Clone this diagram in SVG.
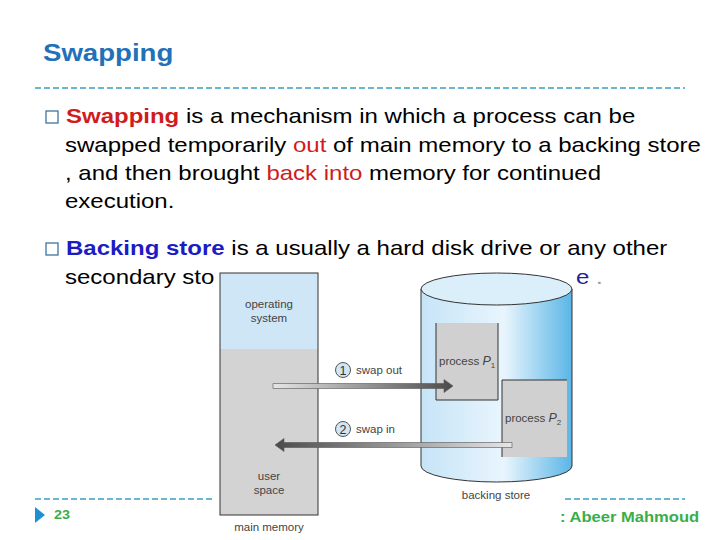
<svg xmlns="http://www.w3.org/2000/svg" width="720" height="540" viewBox="0 0 720 540">
<defs>
<style>
.t{font-family:"Liberation Sans",Arial,sans-serif;font-size:20px;fill:#000}
.red{fill:#d01c1c}
.b{font-weight:bold}
.blue{fill:#1c1cc4}
.lbl{font-family:"Liberation Sans",Arial,sans-serif;font-size:11.5px;fill:#444}
.dash{stroke:#3a9ec4;stroke-width:1.3;stroke-dasharray:6 3;fill:none}
.edge{stroke:#333;stroke-width:1;fill:none}
.foot{font-family:"Liberation Sans",Arial,sans-serif;font-weight:bold;fill:#3aae49}
</style>
<linearGradient id="cyl" x1="0" y1="0" x2="1" y2="0">
<stop offset="0" stop-color="#c6e4f7"/>
<stop offset="0.55" stop-color="#e9f5fd"/>
<stop offset="1" stop-color="#5ab6e6"/>
</linearGradient>
<linearGradient id="outG" x1="0" y1="0" x2="1" y2="0">
<stop offset="0" stop-color="#e6e6e6"/>
<stop offset="1" stop-color="#4a4a4a"/>
</linearGradient>
<linearGradient id="inG" x1="1" y1="0" x2="0" y2="0">
<stop offset="0" stop-color="#e6e6e6"/>
<stop offset="1" stop-color="#4a4a4a"/>
</linearGradient>
</defs>
<rect width="720" height="540" fill="#fff"/>

<g id="title">
<text class="t b" transform="translate(43,61) scale(1.2,1)" style="font-size:23px;fill:#2270b8">Swapping</text>
<line class="dash" x1="35" y1="88" x2="685" y2="88"/>
</g>

<g id="bullet1">
<rect x="46" y="111" width="12" height="12" fill="none" stroke="#2b6a9a" stroke-width="1.2"/>
<text class="t" transform="translate(66,123) scale(1.2,1)"><tspan class="b red">Swapping</tspan> is a mechanism in which a process can be</text>
<text class="t" transform="translate(65,152) scale(1.2,1)">swapped temporarily <tspan class="red">out</tspan> of main memory to a backing store</text>
<text class="t" transform="translate(65,180) scale(1.2,1)">, and then brought <tspan class="red">back into</tspan> memory for continued</text>
<text class="t" transform="translate(65,208) scale(1.2,1)">execution.</text>
</g>

<g id="bullet2">
<rect x="46" y="243" width="12" height="12" fill="none" stroke="#2b6a9a" stroke-width="1.2"/>
<text class="t" transform="translate(66,255) scale(1.2,1)"><tspan class="b blue">Backing store</tspan> is a usually a hard disk drive or any other</text>
<text class="t" transform="translate(65,284) scale(1.2,1)">secondary sto</text>
<text class="t" transform="translate(576,284) scale(1.2,1)"><tspan style="fill:#22229a">e</tspan><tspan style="fill:#999"> .</tspan></text>
</g>

<g id="main-memory">
<rect x="220" y="273" width="98" height="76" fill="#cfe6f7"/>
<rect x="220" y="349" width="98" height="166" fill="#d3d3d3"/>
<rect x="220" y="273" width="98" height="242" class="edge"/>
<text class="lbl" x="269" y="308" text-anchor="middle">operating</text>
<text class="lbl" x="269" y="322" text-anchor="middle">system</text>
<text class="lbl" x="269" y="480" text-anchor="middle">user</text>
<text class="lbl" x="269" y="494" text-anchor="middle">space</text>
<text class="lbl" x="269" y="531" text-anchor="middle">main memory</text>
</g>

<g id="backing-store">
<path d="M421,289 L421,466 A75.5,16 0 0 0 572,466 L572,289 Z" fill="url(#cyl)" stroke="#333" stroke-width="1"/>
<ellipse cx="496.5" cy="289" rx="75.5" ry="16" fill="#dbeffb" stroke="#333" stroke-width="1"/>
<text class="lbl" x="496" y="499" text-anchor="middle">backing store</text>
</g>

<g id="process-p1">
<rect x="436" y="323" width="62" height="77" fill="#d0d0d0"/>
<path d="M436,323 V400 H498 V323" class="edge"/>
<text class="lbl" x="439" y="365">process <tspan font-style="italic" font-size="12.5">P</tspan><tspan font-size="8" dy="3">1</tspan></text>
</g>

<g id="process-p2">
<rect x="502" y="380" width="65" height="77" fill="#d0d0d0"/>
<path d="M502,457 V380 H567" class="edge"/>
<text class="lbl" x="505" y="422">process <tspan font-style="italic" font-size="12.5">P</tspan><tspan font-size="8" dy="3">2</tspan></text>
</g>

<g id="connectors">
<g id="swap-out">
<path d="M273,383.5 H444 V379.5 L453,386 L444,392.5 V388.5 H273 Z" fill="url(#outG)" stroke="#555" stroke-width="0.6"/>
<circle cx="343" cy="370" r="7.5" fill="#cfe6f7" stroke="#555" stroke-width="1"/>
<text class="lbl" x="343" y="374.5" text-anchor="middle" style="font-size:12.5px;fill:#333">1</text>
<text class="lbl" x="356" y="374">swap out</text>
</g>
<g id="swap-in">
<path d="M512,442.5 H284 V438.5 L275,445 L284,451.5 V447.5 H512 Z" fill="url(#inG)" stroke="#555" stroke-width="0.6"/>
<circle cx="343" cy="429" r="7.5" fill="#cfe6f7" stroke="#555" stroke-width="1"/>
<text class="lbl" x="343" y="433.5" text-anchor="middle" style="font-size:12.5px;fill:#333">2</text>
<text class="lbl" x="356" y="433">swap in</text>
</g>
</g>

<g id="footer">
<line class="dash" x1="35" y1="499" x2="215" y2="499"/>
<line class="dash" x1="565" y1="499" x2="685" y2="499"/>
<polygon points="35,507 45,515 35,523" fill="#1e8fd0"/>
<text class="foot" transform="translate(54,519) scale(1.2,1)" style="font-size:12px">23</text>
<text class="foot" transform="translate(560,522) scale(1.2,1)" style="font-size:13.8px">: Abeer Mahmoud</text>
</g>
</svg>
